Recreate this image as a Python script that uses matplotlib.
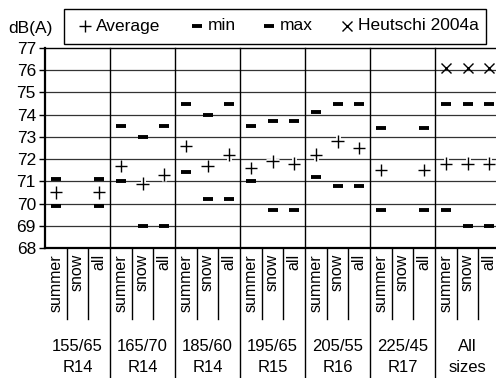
import numpy as np
import matplotlib.pyplot as plt
import matplotlib.patheffects as pe
from matplotlib.patches import Rectangle
from matplotlib.lines import Line2D
from matplotlib.transforms import blended_transform_factory

plt.rcParams['font.family'] = ['Liberation Sans', 'DejaVu Sans']

# tyre sizes and the three measurement sets per size
groups = ['155/65\nR14', '165/70\nR14', '185/60\nR14', '195/65\nR15',
          '205/55\nR16', '225/45\nR17', 'All\nsizes']
seasons = ['summer', 'snow', 'all']

nan = np.nan
avg_db = [70.5, nan, 70.5, 71.7, 70.9, 71.3, 72.6, 71.7, 72.2, 71.6, 71.9,
          71.8, 72.2, 72.8, 72.5, 71.5, nan, 71.5, 71.8, 71.8, 71.8]
min_db = [69.9, nan, 69.9, 71.0, 69.0, 69.0, 71.4, 70.2, 70.2, 71.0, 69.7,
          69.7, 71.2, 70.8, 70.8, 69.7, nan, 69.7, 69.7, 69.0, 69.0]
max_db = [71.1, nan, 71.1, 73.5, 73.0, 73.5, 74.5, 74.0, 74.5, 73.5, 73.7,
          73.7, 74.1, 74.5, 74.5, 73.4, nan, 73.4, 74.5, 74.5, 74.5]
heutschi_db = [nan] * 18 + [76.1, 76.1, 76.1]

W, H = 496, 378


def fx(x):
    return x / W


def fy(y):
    return 1 - y / H


fig = plt.figure(figsize=(W / 100, H / 100), dpi=100)
ax = fig.add_axes([fx(45), fy(248), fx(451), 200 / H])

n = len(avg_db)
xpos = np.arange(n) + 0.5
ax.set_xlim(0, 451 / (65 / 3))
ax.set_ylim(68, 77)

# horizontal grid
for v in range(69, 77):
    ax.axhline(v, color='#333333', lw=0.9, zorder=1)

knock = [pe.withStroke(linewidth=3.5, foreground='white')]
ax.plot(xpos, max_db, ls='none', marker='_', ms=7.5, mew=2.8, color='black', zorder=3)
ax.plot(xpos, min_db, ls='none', marker='_', ms=7.5, mew=2.8, color='black', zorder=3)
ax.plot(xpos, avg_db, ls='none', marker='+', ms=9, mew=1.0, color='black', zorder=4,
        path_effects=knock)
ax.plot(xpos, heutschi_db, ls='none', marker='x', ms=6.5, mew=1.0, color='black', zorder=4)

# group and season dividers reaching into the label area
trans = blended_transform_factory(ax.transData, ax.transAxes)
for k in range(1, n):
    if k % 3 == 0:
        ax.plot([k, k], [1, -0.65], transform=trans, color='black', lw=1.0,
                clip_on=False, zorder=2)
    else:
        ax.plot([k, k], [0, -0.355], transform=trans, color='black', lw=1.0,
                clip_on=False, zorder=2)

for i, x in enumerate(xpos):
    ax.text(x, -0.03, seasons[i % 3], transform=trans, rotation=90,
            ha='center', va='top', fontsize=11.5)
for g, name in enumerate(groups):
    ax.text(3 * g + 1.5, -0.545, name, transform=trans, ha='center', va='center',
            fontsize=12, linespacing=1.45)

ax.set_xticks([])
ax.set_yticks(range(68, 78))
ax.tick_params(axis='y', direction='out', length=4.5, width=1.0, pad=2, labelsize=12.5)
ax.spines['right'].set_visible(False)
ax.spines['left'].set_linewidth(1.6)
ax.spines['bottom'].set_linewidth(1.6)
ax.spines['top'].set_linewidth(1.0)

fig.text(fx(30), fy(28), 'dB(A)', ha='center', va='center', fontsize=12.5)

# legend box along the top
fig.add_artist(Rectangle((fx(64), fy(44)), fx(486 - 64), (44 - 9) / H,
                         transform=fig.transFigure, fill=False, lw=1.0,
                         edgecolor='black'))
ly = fy(26)
fig.add_artist(Line2D([fx(85)], [ly], marker='+', ms=9, mew=1.0, color='black',
                      transform=fig.transFigure))
fig.text(fx(96), ly, 'Average', va='center', fontsize=12.5)
fig.add_artist(Line2D([fx(197)], [ly], marker='_', ms=7.5, mew=2.8, color='black',
                      transform=fig.transFigure))
fig.text(fx(208), ly, 'min', va='center', fontsize=12.5)
fig.add_artist(Line2D([fx(269)], [ly], marker='_', ms=7.5, mew=2.8, color='black',
                      transform=fig.transFigure))
fig.text(fx(280), ly, 'max', va='center', fontsize=12.5)
fig.add_artist(Line2D([fx(347)], [ly], marker='x', ms=6.5, mew=1.0, color='black',
                      transform=fig.transFigure))
fig.text(fx(358), ly, 'Heutschi 2004a', va='center', fontsize=12.5)

fig.savefig('out.png', dpi=100)
